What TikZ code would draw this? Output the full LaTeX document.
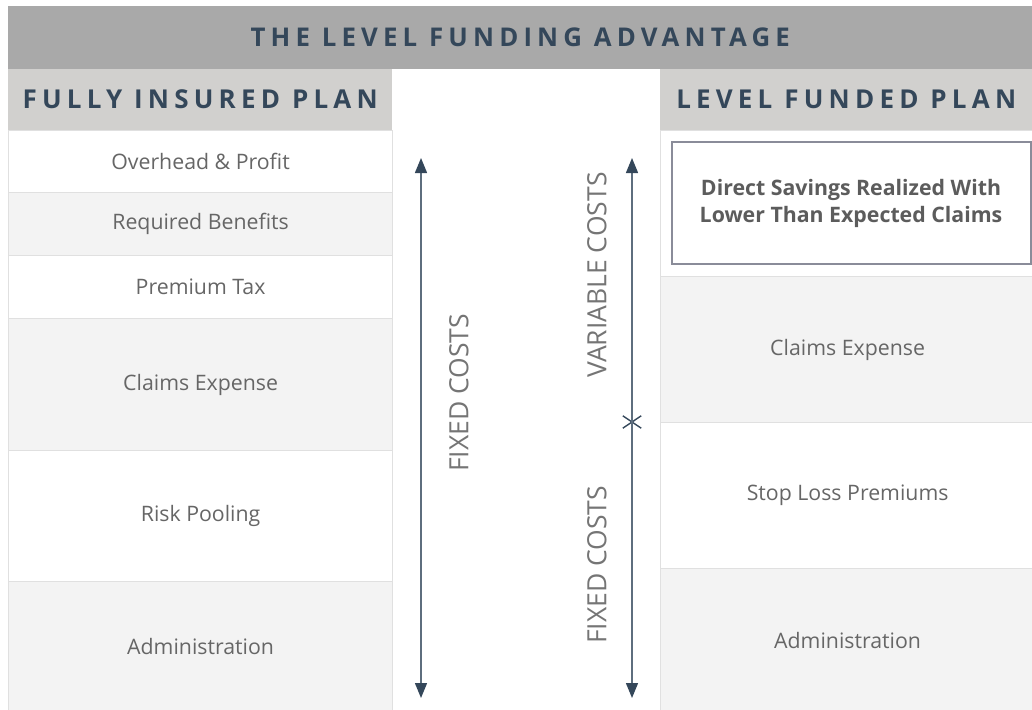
\documentclass[tikz,border=0pt]{standalone}
\usepackage{fontspec}
\setmainfont{Open Sans}
\newfontfamily\capsfont[LetterSpace=20]{Open Sans}
\usetikzlibrary{arrows.meta,shapes.misc}
\definecolor{navy}{HTML}{34475A}
\definecolor{slate}{HTML}{5E6E7E}
\definecolor{titlegray}{HTML}{A9A9A9}
\definecolor{headgray}{HTML}{D1D0CE}
\definecolor{rowgray}{HTML}{F3F3F3}
\definecolor{rowline}{HTML}{E0E0E0}
\definecolor{celltext}{HTML}{666666}
\definecolor{boxline}{HTML}{8A8C99}
\begin{document}
\begin{tikzpicture}[x=1pt,y=-1pt,
  band/.style={fill=headgray,anchor=north west,inner sep=0pt,text=navy,
    font=\capsfont\bfseries\fontsize{26}{30}\selectfont},
  cell/.style={draw=rowline,line width=1.2pt,anchor=north west,inner sep=0pt,
    text=celltext,font=\fontsize{21.3}{25}\selectfont},
  sidelabel/.style={rotate=90,text=celltext!90,font=\fontsize{26.5}{30}\selectfont},
  costarrow/.style={draw=slate,line width=1.4pt},
  tip/.style={Triangle[width=12pt,length=15pt,color=navy]}]
\useasboundingbox (0,0) rectangle (1032,709);

% title and column heads
\node[band,fill=titlegray,minimum width=1024pt,minimum height=63pt,
  font=\capsfont\bfseries\fontsize{25.8}{28}\selectfont] (title) at (8,6) {THE LEVEL FUNDING ADVANTAGE};
\node[band,minimum width=384pt,minimum height=61pt] (fihead) at (8,69) {FULLY INSURED PLAN};
\node[band,minimum width=372pt,minimum height=61pt] (lfhead) at (660,69) {LEVEL FUNDED PLAN};

% fully insured column
\node[cell,fill=white,minimum width=384pt,minimum height=62pt] (overhead) at (8,130) {Overhead \& Profit};
\node[cell,fill=rowgray,minimum width=384pt,minimum height=63pt] (benefits) at (8,192) {Required Benefits};
\node[cell,fill=white,minimum width=384pt,minimum height=63pt] (tax) at (8,255) {Premium Tax};
\node[cell,fill=rowgray,minimum width=384pt,minimum height=132pt] (claimsA) at (8,318) {Claims Expense};
\node[cell,fill=white,minimum width=384pt,minimum height=131pt] (pooling) at (8,450) {Risk Pooling};
\node[cell,fill=rowgray,minimum width=384pt,minimum height=130pt] (adminA) at (8,581) {Administration};

% level funded column
\node[cell,fill=white,minimum width=374pt,minimum height=146pt] (savings) at (660,130) {};
\node[draw=boxline,line width=2pt,fill=white,minimum width=359pt,minimum height=122pt,
  text=celltext!90!black,font=\bfseries\fontsize{21.3}{27}\selectfont,align=center]
  (savebox) at (851,203) {Direct Savings Realized With\\Lower Than Expected Claims};
\node[cell,fill=rowgray,minimum width=374pt,minimum height=146pt] (claimsB) at (660,276) {Claims Expense};
\node[cell,fill=white,minimum width=374pt,minimum height=146pt] (stoploss) at (660,422) {Stop Loss Premiums};
\node[cell,fill=rowgray,minimum width=374pt,minimum height=143pt] (adminB) at (660,568) {Administration};

% cost arrows
\coordinate (fixtop) at (421,158);
\coordinate (fixbot) at (421,698);
\coordinate (vartop) at (632,158);
\coordinate (varbot) at (632,698);
\node[cross out,draw=navy,line width=1.4pt,minimum width=17pt,minimum height=11pt,inner sep=0pt] (split) at (632,422) {};
\draw[costarrow,{Triangle[width=12pt,length=15pt,color=navy]}-{Triangle[width=12pt,length=15pt,color=navy]}] (fixtop) -- (fixbot);
\draw[costarrow,-{Triangle[width=12pt,length=15pt,color=navy]}] (split.center) -- (vartop);
\draw[costarrow,-{Triangle[width=12pt,length=15pt,color=navy]}] (split.center) -- (varbot);

\node[sidelabel] (fixedA) at (459,393) {FIXED COSTS};
\node[sidelabel] (variable) at (597,275) {VARIABLE COSTS};
\node[sidelabel] (fixedB) at (597,565) {FIXED COSTS};
\end{tikzpicture}
\end{document}
